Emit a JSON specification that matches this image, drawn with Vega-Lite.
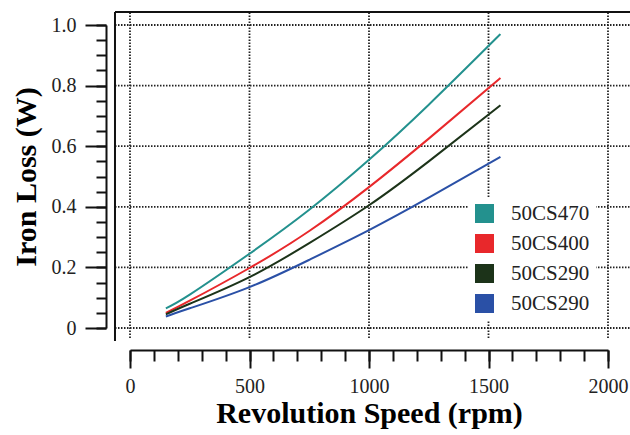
{
 "$schema": "https://vega.github.io/schema/vega-lite/v6.json",
 "autosize": {"type": "none"},
 "padding": {"left": 130, "top": 25, "right": 22, "bottom": 107},
 "width": 478,
 "height": 303,
 "background": "white",
 "config": {"view": {"stroke": null}, "font": "Liberation Serif"},
 "datasets": {
  "loss": [
   {"series": "50CS470", "rpm": 150, "loss": 0.065},
   {"series": "50CS470", "rpm": 250, "loss": 0.11},
   {"series": "50CS470", "rpm": 500, "loss": 0.245},
   {"series": "50CS470", "rpm": 750, "loss": 0.39},
   {"series": "50CS470", "rpm": 1000, "loss": 0.555},
   {"series": "50CS470", "rpm": 1250, "loss": 0.737},
   {"series": "50CS470", "rpm": 1550, "loss": 0.97},
   {"series": "50CS400", "rpm": 150, "loss": 0.05},
   {"series": "50CS400", "rpm": 250, "loss": 0.09},
   {"series": "50CS400", "rpm": 500, "loss": 0.198},
   {"series": "50CS400", "rpm": 750, "loss": 0.32},
   {"series": "50CS400", "rpm": 1000, "loss": 0.465},
   {"series": "50CS400", "rpm": 1250, "loss": 0.625},
   {"series": "50CS400", "rpm": 1550, "loss": 0.825},
   {"series": "50CS290", "rpm": 150, "loss": 0.045},
   {"series": "50CS290", "rpm": 250, "loss": 0.08},
   {"series": "50CS290", "rpm": 500, "loss": 0.168},
   {"series": "50CS290", "rpm": 750, "loss": 0.28},
   {"series": "50CS290", "rpm": 1000, "loss": 0.405},
   {"series": "50CS290", "rpm": 1250, "loss": 0.55},
   {"series": "50CS290", "rpm": 1550, "loss": 0.735},
   {"series": "50CS290 ", "rpm": 150, "loss": 0.038},
   {"series": "50CS290 ", "rpm": 250, "loss": 0.065},
   {"series": "50CS290 ", "rpm": 500, "loss": 0.135},
   {"series": "50CS290 ", "rpm": 750, "loss": 0.225},
   {"series": "50CS290 ", "rpm": 1000, "loss": 0.323},
   {"series": "50CS290 ", "rpm": 1250, "loss": 0.43},
   {"series": "50CS290 ", "rpm": 1550, "loss": 0.565}
  ],
  "ygrid": [{"v": 0}, {"v": 0.2}, {"v": 0.4}, {"v": 0.6}, {"v": 0.8}, {"v": 1}],
  "xgrid": [{"v": 0}, {"v": 500}, {"v": 1000}, {"v": 1500}, {"v": 2000}],
  "one": [{}]
 },
 "layer": [
  {
   "data": {"name": "ygrid"},
   "mark": {"type": "rule", "strokeDash": [1.5, 1.5], "strokeWidth": 1.8, "color": "#222"},
   "encoding": {
    "y": {"field": "v", "type": "quantitative", "scale": {"domain": [0, 1], "nice": false, "zero": false},
     "axis": {"orient": "left", "values": [0,0.05,0.1,0.15,0.2,0.25,0.3,0.35,0.4,0.45,0.5,0.55,0.6,0.65,0.7,0.75,0.8,0.85,0.9,0.95,1], "labels": false, "domain": false, "grid": false, "tickSize": 10, "tickWidth": 2, "tickColor": "#111", "offset": 24, "title": null}},
    "x": {"datum": -62.8, "type": "quantitative", "axis": null},
    "x2": {"datum": 2100}
   }
  },
  {
   "data": {"name": "xgrid"},
   "mark": {"type": "rule", "strokeDash": [1.5, 1.5], "strokeWidth": 1.8, "color": "#222"},
   "encoding": {
    "x": {"field": "v", "type": "quantitative", "scale": {"domain": [0, 2000], "nice": false, "zero": false},
     "axis": {"orient": "bottom", "values": [0,100,200,300,400,500,600,700,800,900,1000,1100,1200,1300,1400,1500,1600,1700,1800,1900,2000], "labels": false, "domain": false, "grid": false, "tickSize": 11, "tickWidth": 2, "tickColor": "#111", "offset": 22, "title": null}},
    "y": {"datum": -0.033, "type": "quantitative", "axis": null},
    "y2": {"datum": 1.043}
   }
  },
  {
   "data": {"name": "one"},
   "mark": {"type": "rule", "strokeWidth": 2, "color": "#111"},
   "encoding": {
    "x": {"datum": -62.8, "type": "quantitative", "axis": null},
    "y": {"datum": -0.043, "type": "quantitative", "axis": null},
    "y2": {"datum": 1.043}
   }
  },
  {
   "data": {"name": "one"},
   "mark": {"type": "rule", "strokeWidth": 2, "color": "#111"},
   "encoding": {
    "y": {"datum": 1.043, "type": "quantitative", "axis": null},
    "x": {"datum": -62.8, "type": "quantitative", "axis": null},
    "x2": {"datum": 2100}
   }
  },
  {
   "data": {"name": "loss"},
   "mark": {"type": "line", "strokeWidth": 2, "interpolate": "natural"},
   "encoding": {
    "x": {"field": "rpm", "type": "quantitative", "scale": {"domain": [0, 2000], "nice": false, "zero": false},
     "axis": {"orient": "bottom", "values": [0, 500, 1000, 1500, 2000], "format": "d", "offset": 22, "grid": false, "tickSize": 18, "tickWidth": 2, "tickColor": "#111", "domainColor": "#111", "domainWidth": 2, "labelFont": "Liberation Serif", "labelFontSize": 20, "labelColor": "#222", "labelPadding": 8, "labelFlush": false, "labelOverlap": false, "title": "Revolution Speed (rpm)", "titleFont": "Liberation Serif", "titleFontSize": 30, "titleFontWeight": "bold", "titleColor": "#000", "titlePadding": 2}},
    "y": {"field": "loss", "type": "quantitative", "scale": {"domain": [0, 1], "nice": false, "zero": false},
     "axis": {"orient": "left", "values": [0, 0.2, 0.4, 0.6, 0.8, 1], "labelExpr": "datum.value == 0 ? '0' : format(datum.value, '.1f')", "offset": 24, "grid": false, "tickSize": 21, "tickWidth": 2, "tickColor": "#111", "domainColor": "#111", "domainWidth": 2, "labelFont": "Liberation Serif", "labelFontSize": 20, "labelColor": "#222", "labelPadding": 9, "labelFlush": false, "labelOverlap": false, "title": "Iron Loss (W)", "titleFont": "Liberation Serif", "titleFontSize": 30, "titleFontWeight": "bold", "titleColor": "#000", "titlePadding": 10}},
    "color": {"field": "series", "type": "nominal",
     "scale": {"domain": ["50CS470", "50CS400", "50CS290", "50CS290 "], "range": ["#23918e", "#e8282b", "#1c3319", "#2a50a6"]},
     "legend": {"orient": "none", "legendX": 338, "legendY": 172, "title": null, "fillColor": "white", "padding": 6, "symbolType": "square", "symbolSize": 361, "symbolStrokeWidth": 0, "labelFont": "Liberation Serif", "labelFontSize": 21, "labelColor": "#222", "labelOffset": 16, "rowPadding": 8,
      "encode": {"symbols": {"update": {"fill": {"scale": "color", "field": "value"}, "fillOpacity": {"value": 1}, "strokeWidth": {"value": 0}}}}}}
   }
  }
 ],
 "resolve": {"axis": {"x": "independent", "y": "independent"}}
}
